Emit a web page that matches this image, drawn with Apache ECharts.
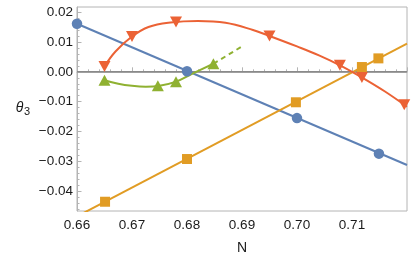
<!DOCTYPE html>
<html><head><meta charset="utf-8">
<script src="https://cdn.jsdelivr.net/npm/echarts@6/dist/echarts.min.js"></script>
<style>html,body{margin:0;padding:0;background:#fff}#c{width:415px;height:260px}</style>
</head><body><div id="c"></div>
<script>
// ---- data ----
const xTicks = [0.66, 0.67, 0.68, 0.69, 0.70, 0.71];
const yTicks = [-0.04, -0.03, -0.02, -0.01, 0, 0.01, 0.02];

const blueLine = [[0.66, 0.0161], [0.72, -0.0312]];
const bluePts = [[0.66, 0.0161], [0.68, 0.0002], [0.70, -0.0155], [0.7149, -0.0274]];

const orangeLine = [[0.66, -0.0484], [0.72, 0.0094]];
const orangePts = [[0.6651, -0.0435], [0.68, -0.0292], [0.6998, -0.0102], [0.7118, 0.0016], [0.7148, 0.0045]];

const redCurve = [[0.665, 0.0018], [0.667, 0.0068], [0.670, 0.0118], [0.673, 0.0150], [0.677, 0.0165],
  [0.682, 0.0170], [0.687, 0.0164], [0.692, 0.0140], [0.695, 0.0120], [0.700, 0.0085], [0.704, 0.0055],
  [0.708, 0.0020], [0.712, -0.0021], [0.716, -0.0066], [0.720, -0.0117]];
const redPts = [[0.665, 0.0018], [0.670, 0.0118], [0.678, 0.0167], [0.695, 0.0120], [0.7078, 0.0022], [0.7118, -0.0019], [0.7195, -0.0110]];

const greenCurve = [[0.665, -0.0028], [0.6675, -0.0040], [0.670, -0.0047], [0.6725, -0.0050], [0.675, -0.0047],
  [0.678, -0.0033], [0.681, -0.0006], [0.6848, 0.0027]];
const greenDash = [[0.6848, 0.0027], [0.690, 0.0085]];
const greenPts = [[0.665, -0.0028], [0.6747, -0.0047], [0.678, -0.0033], [0.6848, 0.0027]];

const zeroLine = [[0.66, 0], [0.72, 0]];

// ---- chart ----
const yMinor = [];
for (let k = -46; k <= 20; k += 2) { if (k % 10 !== 0) yMinor.push(k / 1000); }

const FONT = 'Liberation Sans';
const AX = '#b4b4b4';
const TXT = '#1a1a1a';
const C = { blue: '#5E81B5', orange: '#E19C24', red: '#EB6235', green: '#8FB131' };
const fmt = v => { const s = (Math.abs(v) < 1e-9 ? 0 : v).toFixed(2); return s[0] === '-' ? '\u2212' + s.slice(1) : s; };
const LW = 2;

const chart = echarts.init(document.getElementById('c'), null, { renderer: 'canvas' });
chart.setOption({
  animation: false,
  grid: { left: 77, right: 8, top: 7, bottom: 49, show: true, borderColor: AX, borderWidth: 1, backgroundColor: 'transparent' },
  xAxis: {
    type: 'value', min: 0.66, max: 0.72, interval: 0.01,
    axisLine: { show: true, lineStyle: { color: AX, width: 1 } },
    axisTick: { show: true, inside: true, length: 4.5, lineStyle: { color: AX } },
    minorTick: { show: true, splitNumber: 5, length: 2.5, lineStyle: { color: AX } },
    splitLine: { show: false },
    axisLabel: { show: true, margin: 7, color: TXT, fontFamily: FONT, fontSize: 13.5, showMaxLabel: false,
      formatter: v => xTicks.some(t => Math.abs(t - v) < 1e-6) ? fmt(v) : '' }
  },
  yAxis: [{
    type: 'value', min: -0.0466, max: 0.0217,
    axisLine: { show: true, lineStyle: { color: AX, width: 1 } },
    axisTick: { show: true, inside: true, length: 4.5, lineStyle: { color: AX }, customValues: yTicks },
    splitLine: { show: false },
    axisLabel: { show: true, margin: 4, color: TXT, fontFamily: FONT, fontSize: 13.5, customValues: yTicks, formatter: v => fmt(v) }
  }, {
    type: 'value', min: -0.0466, max: 0.0217, position: 'left',
    axisLine: { show: false },
    axisTick: { show: true, inside: true, length: 2.5, lineStyle: { color: AX }, customValues: yMinor },
    splitLine: { show: false },
    axisLabel: { show: false }
  }],
  graphic: [
    { type: 'text', x: 19.5, y: 108, style: { text: 'θ', font: 'italic 14px "Liberation Sans"', fill: TXT, align: 'center', verticalAlign: 'middle' } },
    { type: 'text', x: 27, y: 112, style: { text: '3', font: '11px "Liberation Sans"', fill: TXT, align: 'center', verticalAlign: 'middle' } },
    { type: 'text', x: 242, y: 248, style: { text: 'N', font: '14px "Liberation Sans"', fill: TXT, align: 'center', verticalAlign: 'middle' } }
  ],
  series: [
    { type: 'line', data: zeroLine, symbol: 'none', lineStyle: { color: '#8a8a8a', width: 1.6 }, z: 1, silent: true },
    { type: 'line', data: blueLine, symbol: 'none', clip: true, lineStyle: { color: C.blue, width: LW }, z: 2 },
    { type: 'line', data: orangeLine, symbol: 'none', clip: true, lineStyle: { color: C.orange, width: LW }, z: 2 },
    { type: 'line', data: redCurve, symbol: 'none', smooth: 0.4, clip: true, lineStyle: { color: C.red, width: LW }, z: 2 },
    { type: 'line', data: greenCurve, symbol: 'none', smooth: 0.4, clip: true, lineStyle: { color: C.green, width: LW }, z: 2 },
    { type: 'line', data: greenDash, symbol: 'none', clip: true, lineStyle: { color: C.green, width: LW, type: [5, 4] }, z: 2 },
    { type: 'scatter', data: bluePts, symbol: 'circle', symbolSize: 10.5, itemStyle: { color: C.blue, opacity: 1 }, z: 3, clip: false },
    { type: 'scatter', data: orangePts, symbol: 'rect', symbolSize: 10, itemStyle: { color: C.orange, opacity: 1 }, z: 3, clip: false },
    { type: 'scatter', data: redPts, symbol: 'triangle', symbolRotate: 180, symbolSize: [12, 11], itemStyle: { color: C.red, opacity: 1 }, z: 3, clip: false },
    { type: 'scatter', data: greenPts, symbol: 'triangle', symbolSize: [12, 11], itemStyle: { color: C.green, opacity: 1 }, z: 3, clip: false }
  ]
});
</script>
</body></html>
